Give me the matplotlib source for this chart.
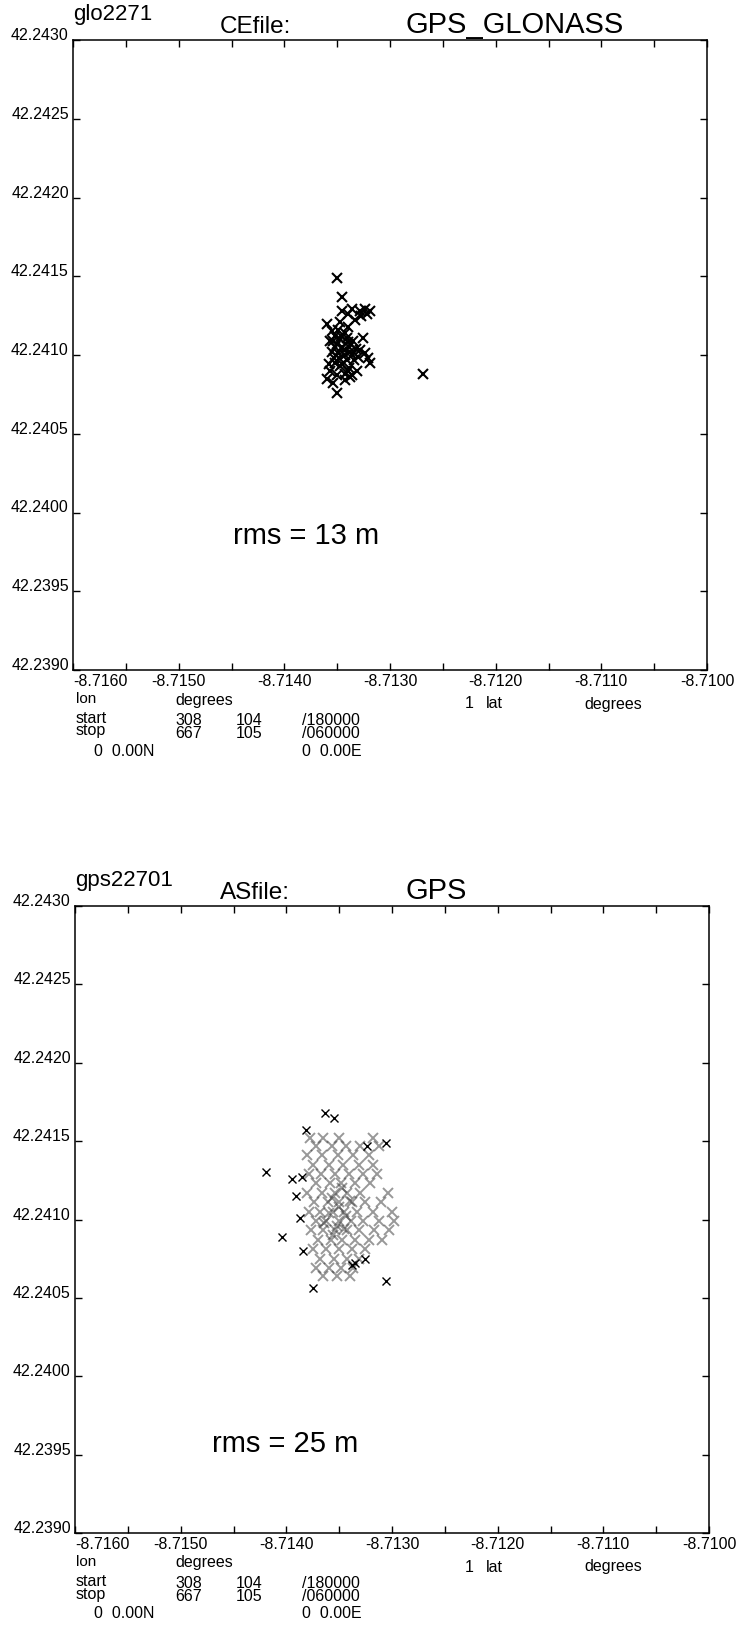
import matplotlib.pyplot as plt

# figure size in pixels (saved at dpi 100)
W, H = 741, 1637
plt.rcParams['font.family'] = ['Liberation Sans', 'DejaVu Sans']

# axis ticks shared by both panels
lon_ticks = [-8.7160, -8.7155, -8.7150, -8.7145, -8.7140, -8.7135, -8.7130,
             -8.7125, -8.7120, -8.7115, -8.7110, -8.7105, -8.7100]
lon_labels = ['-8.7160', '', '-8.7150', '', '-8.7140', '', '-8.7130',
              '', '-8.7120', '', '-8.7110', '', '-8.7100']
lat_ticks = [42.2390, 42.2395, 42.2400, 42.2405, 42.2410,
             42.2415, 42.2420, 42.2425, 42.2430]
lat_labels = ['42.2390', '42.2395', '42.2400', '42.2405', '42.2410',
              '42.2415', '42.2420', '42.2425', '42.2430']

# top panel: GPS_GLONASS fixes
glo_lon = [-8.71350, -8.71345, -8.71345, -8.71336, -8.71328, -8.71324, -8.71319,
           -8.71327, -8.71322, -8.71340, -8.71360, -8.71347, -8.71340, -8.71333,
           -8.71326, -8.71355, -8.71349, -8.71343, -8.71354, -8.71347, -8.71341,
           -8.71335, -8.71352, -8.71345, -8.71339, -8.71332, -8.71328, -8.71349,
           -8.71343, -8.71336, -8.71330, -8.71324, -8.71357, -8.71353, -8.71321,
           -8.71319, -8.71357, -8.71360, -8.71350, -8.71343, -8.71336, -8.71331,
           -8.71340, -8.71354, -8.71347, -8.71358, -8.71350, -8.71269,
           # dense core of the blob
           -8.71352, -8.71346, -8.71340, -8.71350, -8.71344, -8.71338, -8.71355,
           -8.71348, -8.71341, -8.71334, -8.71345, -8.71339, -8.71343, -8.71338,
           -8.71352]
glo_lat = [42.24149, 42.24137, 42.24128, 42.24129, 42.24128, 42.24129, 42.24128,
           42.24125, 42.24126, 42.24126, 42.24120, 42.24121, 42.24118, 42.24122,
           42.24111, 42.24115, 42.24116, 42.24114, 42.24109, 42.24110, 42.24111,
           42.24109, 42.24105, 42.24105, 42.24105, 42.24104, 42.24103, 42.24101,
           42.24100, 42.24100, 42.24099, 42.24101, 42.24109, 42.24098, 42.24098,
           42.24095, 42.24090, 42.24085, 42.24087, 42.24084, 42.24087, 42.24090,
           42.24090, 42.24082, 42.24093, 42.24094, 42.24076, 42.24088,
           42.24112, 42.24112, 42.24108, 42.24107, 42.24103, 42.24102, 42.24102,
           42.24098, 42.24097, 42.24097, 42.24094, 42.24092, 42.24088, 42.24086,
           42.24095]

# bottom panel: GPS only, isolated fixes
gps_lon = [-8.71363, -8.71355, -8.71381, -8.71324, -8.71306, -8.71419, -8.71395,
           -8.71385, -8.71391, -8.71387, -8.71404, -8.71384, -8.71338, -8.71335,
           -8.71326, -8.71306, -8.71375]
gps_lat = [42.24168, 42.24165, 42.24157, 42.24147, 42.24149, 42.24130, 42.24126,
           42.24127, 42.24115, 42.24101, 42.24089, 42.24080, 42.24071, 42.24072,
           42.24075, 42.24061, 42.24056]

# bottom panel: the dense grey cloud of fixes
cloud_lon = [-8.71378, -8.71365, -8.71350, -8.71318,
             -8.71372, -8.71357, -8.71344, -8.71330, -8.71312,
             -8.71380, -8.71366, -8.71351, -8.71337, -8.71322,
             -8.71375, -8.71360, -8.71346, -8.71331, -8.71318,
             -8.71379, -8.71367, -8.71354, -8.71341, -8.71327, -8.71314,
             -8.71372, -8.71359, -8.71348, -8.71335, -8.71321,
             -8.71380, -8.71366, -8.71354, -8.71343, -8.71330, -8.71304,
             -8.71374, -8.71361, -8.71350, -8.71338, -8.71326, -8.71310,
             -8.71379, -8.71368, -8.71356, -8.71345, -8.71333, -8.71318, -8.71300,
             -8.71372, -8.71362, -8.71350, -8.71339, -8.71327, -8.71312, -8.71298,
             -8.71377, -8.71365, -8.71354, -8.71343, -8.71331, -8.71317, -8.71303,
             -8.71370, -8.71358, -8.71347, -8.71335, -8.71322, -8.71309,
             -8.71375, -8.71362, -8.71350, -8.71338, -8.71326,
             -8.71368, -8.71355, -8.71343, -8.71331,
             -8.71372, -8.71360, -8.71348, -8.71337,
             -8.71365, -8.71352, -8.71340,
             -8.71357, -8.71350, -8.71344, -8.71352, -8.71360,
             -8.71347, -8.71340, -8.71364, -8.71356, -8.71345]
cloud_lat = [42.24152, 42.24152, 42.24152, 42.24152,
             42.24147, 42.24147, 42.24147, 42.24147, 42.24147,
             42.24141, 42.24141, 42.24141, 42.24141, 42.24141,
             42.24135, 42.24135, 42.24135, 42.24135, 42.24135,
             42.24129, 42.24129, 42.24129, 42.24129, 42.24129, 42.24129,
             42.24123, 42.24123, 42.24123, 42.24123, 42.24123,
             42.24117, 42.24117, 42.24117, 42.24117, 42.24117, 42.24117,
             42.24111, 42.24111, 42.24111, 42.24111, 42.24111, 42.24111,
             42.24105, 42.24105, 42.24105, 42.24105, 42.24105, 42.24105, 42.24105,
             42.24099, 42.24099, 42.24099, 42.24099, 42.24099, 42.24099, 42.24099,
             42.24093, 42.24093, 42.24093, 42.24093, 42.24093, 42.24093, 42.24093,
             42.24087, 42.24087, 42.24087, 42.24087, 42.24087, 42.24087,
             42.24081, 42.24081, 42.24081, 42.24081, 42.24081,
             42.24075, 42.24075, 42.24075, 42.24075,
             42.24069, 42.24069, 42.24069, 42.24069,
             42.24064, 42.24064, 42.24064,
             42.24114, 42.24108, 42.24102, 42.24096, 42.24104,
             42.24120, 42.24112, 42.24098, 42.24090, 42.24094]

# rms annotation (text, anchor lon, anchor lat) for each panel
rms_top = ('rms = 13 m', -8.71449, 42.23985)
rms_bottom = ('rms = 25 m', -8.71470, 42.23957)

fig = plt.figure(figsize=(W / 100, H / 100), dpi=100)


def ftext(x, y, s, size=11.5, **kw):
    """put text on the figure using pixel coordinates from the top-left corner"""
    fig.text(x / W, 1 - y / H, s, fontsize=size, **kw)


def draw_panel(left, right, top, bottom, name, ftype, system, rms):
    """draws one position plot with its header and footer text, returns the axes"""
    ax = fig.add_axes([left / W, 1 - bottom / H, (right - left) / W, (bottom - top) / H])
    ax.set_xlim(lon_ticks[0], lon_ticks[-1])
    ax.set_ylim(lat_ticks[0], lat_ticks[-1])
    ax.set_xticks(lon_ticks, lon_labels)
    ax.set_yticks(lat_ticks, lat_labels, va='baseline')
    ax.get_xticklabels()[0].set_ha('left')
    ax.tick_params(direction='in', length=5, width=1, top=True, right=True,
                   labelsize=11.5, pad=3)
    for sp in ax.spines.values():
        sp.set_linewidth(1.1)

    ax.text(rms[1], rms[2], rms[0], fontsize=21, va='center', ha='left')

    # header
    ftext(left, top - 20, name, size=16, va='baseline')
    ftext(220, top - 7, ftype, size=17.5, va='baseline')
    ftext(406, top - 7, system, size=21, va='baseline')

    # footer
    ftext(76, bottom + 29, 'lon', size=11, va='center')
    ftext(175, bottom + 30, 'degrees', va='center')
    ftext(465, bottom + 34, '1', va='center')
    ftext(486, bottom + 34, 'lat', va='center')
    ftext(584, bottom + 34, 'degrees', va='center')
    ftext(76, bottom + 55, 'start\nstop', va='center', linespacing=0.75)
    ftext(175, bottom + 57, '308\n667', va='center', linespacing=0.85)
    ftext(236, bottom + 57, '104\n105', va='center', linespacing=0.85)
    ftext(302, bottom + 57, '/180000\n/060000', va='center', linespacing=0.85)
    ftext(94, bottom + 81, '0  0.00N', va='center')
    ftext(302, bottom + 81, '0  0.00E', va='center')
    return ax


ax1 = draw_panel(73, 707, 40, 670, 'glo2271', 'CEfile:', 'GPS_GLONASS', rms_top)
ax1.plot(glo_lon, glo_lat, 'x', color='black', ms=6.5, mew=1.5)

ax2 = draw_panel(75, 709, 906, 1533, 'gps22701', 'ASfile:', 'GPS', rms_bottom)
ax2.plot(cloud_lon, cloud_lat, 'x', color='0.2', alpha=0.5, ms=7.5, mew=1.4)
ax2.plot(gps_lon, gps_lat, 'x', color='black', ms=6, mew=1.0)

fig.savefig('out.png', dpi=100)
